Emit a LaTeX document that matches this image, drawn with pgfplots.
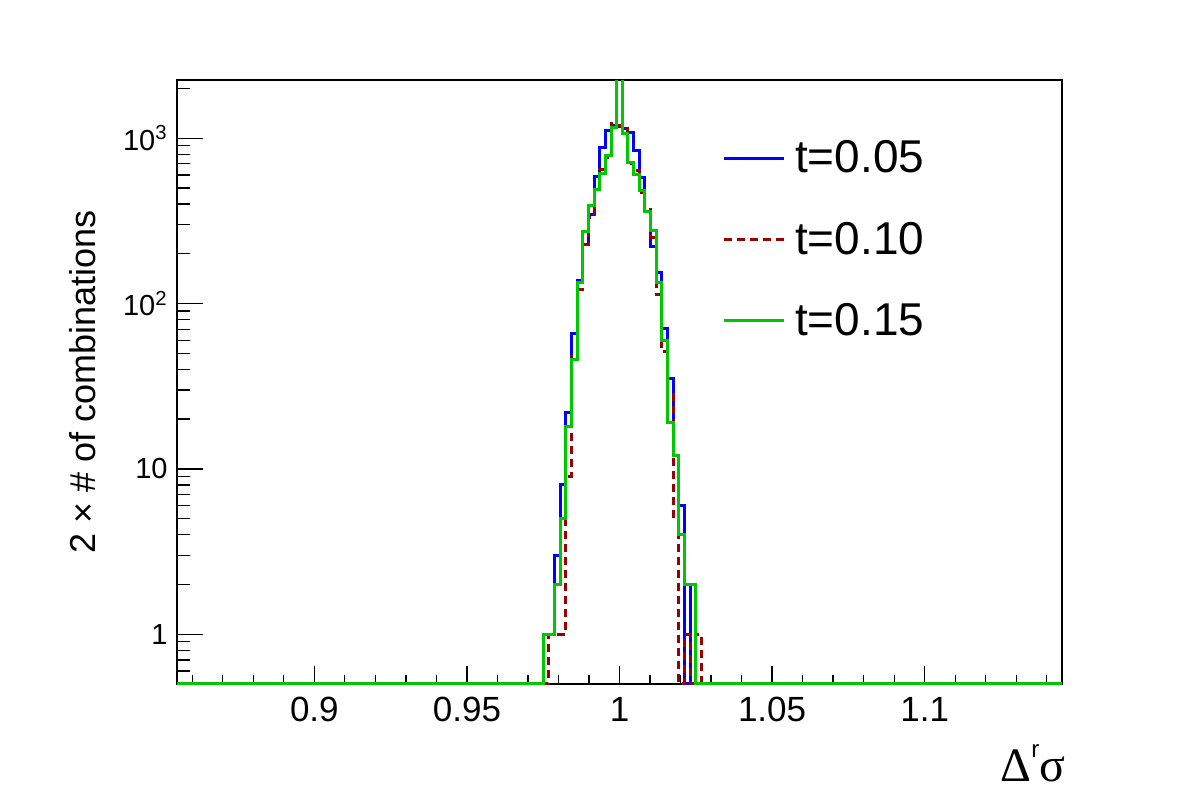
\documentclass[border=0pt]{standalone}
\usepackage{pgfplots}
\pgfplotsset{compat=1.18}
\usepackage{pgfplotstable}
\usepackage{fontspec}
\setmainfont{Liberation Sans}
\newfontfamily\greekserif{Liberation Serif}
\definecolor{rblue}{RGB}{0,0,255}
\definecolor{rred}{RGB}{153,0,0}
\definecolor{rgreen}{RGB}{0,200,0}

\pgfplotstableread{
x y
0.855 0.505
0.97500 1
0.97685 1
0.97870 3
0.98056 8
0.98241 22
0.98426 66
0.98611 138
0.98796 228
0.98981 346
0.99167 590
0.99352 879
0.99537 1110
0.99722 1200
0.99907 1180
1.00093 1140
1.00278 1090
1.00463 840
1.00648 575
1.00833 363
1.01019 222
1.01204 154
1.01389 71
1.01574 35
1.01759 12
1.01944 6
1.02130 0.505
1.02315 2
1.02500 0.505
1.145 0.505
}\tblue

\pgfplotstableread{
x y
0.855 0.505
0.97500 0.505
0.97685 1
0.97870 1
0.98056 1
0.98241 9
0.98426 48
0.98611 122
0.98796 228
0.98981 330
0.99167 490
0.99352 650
0.99537 760
0.99722 1230
0.99907 1200
1.00093 1140
1.00278 700
1.00463 640
1.00648 470
1.00833 380
1.01019 250
1.01204 113
1.01389 51
1.01574 29
1.01759 5
1.01944 0.505
1.02130 1
1.02315 0.505
1.02500 1
1.02685 0.505
1.145 0.505
}\tred

\pgfplotstableread{
x y
0.855 0.505
0.97500 1
0.97685 1
0.97870 2
0.98056 5
0.98241 18
0.98426 46
0.98611 134
0.98796 274
0.98981 393
0.99167 491
0.99352 613
0.99537 781
0.99722 1161
0.99907 2600
1.00093 1067
1.00278 712
1.00463 605
1.00648 480
1.00833 363
1.01019 278
1.01204 134
1.01389 60
1.01574 19
1.01759 12
1.01944 4
1.02130 2
1.02315 2
1.02500 0.505
1.145 0.505
}\tgreen

\begin{document}
\begin{tikzpicture}[x=1pt,y=1pt]
\path[use as bounding box] (0,0) rectangle (591,402.5);
\begin{axis}[
  at={(88.5pt,60.5pt)}, anchor=south west,
  scale only axis, width=442.5pt, height=302pt,
  clip mode=individual,
  ymode=log,
  xmin=0.855, xmax=1.145, ymin=0.5, ymax=2250,
  xtick={0.9,0.95,1,1.05,1.1},
  xticklabels={0.9,0.95,1,1.05,1.1},
  minor xtick={0.86,0.87,0.88,0.89,0.91,0.92,0.93,0.94,0.96,0.97,0.98,0.99,1.01,1.02,1.03,1.04,1.06,1.07,1.08,1.09,1.11,1.12,1.13,1.14},
  ytick={1,10,100,1000},
  yticklabels={1,10,10\textsuperscript{2},10\textsuperscript{3}},
  minor ytick={0.6,0.7,0.8,0.9,2,3,4,5,6,7,8,9,20,30,40,50,60,70,80,90,200,300,400,500,600,700,800,900,2000},
  xtick pos=bottom, ytick pos=left, tick align=inside,
  major x tick style={/pgfplots/major tick length=8.8pt},
  minor x tick style={/pgfplots/minor tick length=4.5pt},
  major y tick style={/pgfplots/major tick length=13pt},
  minor y tick style={/pgfplots/minor tick length=6.3pt},
  tick style={black, line width=0.65pt},
  axis line style={line width=0.8pt},
  xticklabel style={font=\fontsize{17.5}{17.5}\selectfont, inner ysep=6.5pt},
  yticklabel style={font=\fontsize{14.5}{14.5}\selectfont, inner xsep=4.5pt},
  legend style={at={(rel axis cs:0.6155,0.9)}, anchor=north west, draw=none, fill=none,
    inner sep=0pt, row sep=23pt, column sep=5pt,
    font=\fontsize{23}{23}\selectfont,
    nodes={inner sep=0pt}},
  legend cell align=left,
  legend image code/.code={\draw[#1] (0pt,0pt) -- (30pt,0pt);},
]
\addplot[const plot, color=rblue, line width=1.5pt] table[x=x,y=y] {\tblue};
\addlegendentry{t=0.05}
\addplot[const plot, color=rred, line width=1.5pt, dash pattern=on 4pt off 2.5pt] table[x=x,y=y] {\tred};
\addlegendentry{t=0.10}
\addplot[const plot, color=rgreen, line width=1.5pt] table[x=x,y=y] {\tgreen};
\addlegendentry{t=0.15}
\node[rotate=90, anchor=center, inner sep=0pt, font=\fontsize{18}{18}\selectfont] at (rel axis cs:-0.1062,0.5) {2 × \# of combinations};
\node[anchor=base east, inner sep=0pt] at (rel axis cs:1.004,-0.162) {\fontsize{24}{24}\selectfont\greekserif Δ\raisebox{0.5em}{\fontsize{12}{12}\selectfont\rmfamily r}σ};
\end{axis}
\end{tikzpicture}
\end{document}
